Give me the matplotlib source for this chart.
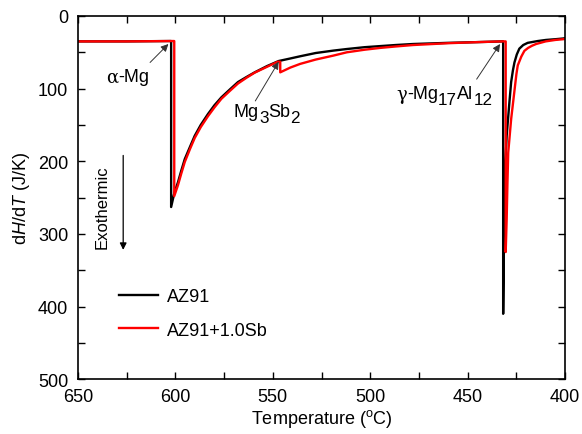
import matplotlib
matplotlib.use("Agg")
import matplotlib.pyplot as plt
from matplotlib.ticker import MultipleLocator
from matplotlib.transforms import offset_copy

plt.rcParams['font.family'] = ['Liberation Sans', 'DejaVu Sans']
plt.rcParams['mathtext.fontset'] = 'custom'
plt.rcParams['mathtext.rm'] = 'Liberation Sans'
plt.rcParams['mathtext.it'] = 'Liberation Sans:italic'
plt.rcParams['mathtext.default'] = 'regular'

# AZ91
T_black = [650, 625, 603, 602.2, 602.2, 600.5, 598.7, 597, 595.2, 592.5, 590.1, 587, 583.3, 580,
           576.4, 572, 567.9, 563.5, 559.3, 553, 547, 541, 536, 528, 519, 512, 503, 495, 487,
           478, 460, 445, 432, 431.8, 431.8, 431.5, 431.2, 430.6, 430, 428.6, 427.7, 426.8, 426,
           424.8, 423.5, 421.5, 419.2, 414, 409.8, 405, 401, 400]
v_black = [35, 35, 34.5, 34.5, 263, 243, 229, 213, 197, 180, 165, 150, 135, 123,
           112, 101, 91, 84, 77.6, 69, 62, 58.5, 55.5, 51, 47.7, 45.5, 43, 41.5, 40,
           38.6, 37, 36, 35, 35, 410, 330, 252, 200, 165, 119, 91, 75, 64,
           53, 45, 40, 37, 34.5, 33, 32, 31, 30.5]

# AZ91+1.0Sb
T_red = [650, 625, 601, 600.6, 600.6, 598.7, 597, 595.2, 592.5, 590.1, 587, 583.3, 580,
         576.4, 572, 567.9, 563.5, 559.3, 553, 547.5, 546.2, 546.2, 541, 536, 528, 519, 512,
         503, 495, 487, 478, 460, 445, 432, 430.5, 430.5, 430.0, 429.6, 429.2, 427.7, 425.7,
         425, 424.3, 422.5, 420.9, 419, 417, 414.9, 410, 405, 401, 400]
v_red = [35, 35, 34.5, 34.5, 248, 233, 217, 201, 183, 168, 153, 138, 126,
         114, 103, 93, 85, 78, 70, 63, 63, 77.6, 71, 66, 60, 54.6, 50,
         46.5, 44, 42, 40, 37.5, 36, 35, 35, 325, 280, 230, 188, 142, 96,
         80, 68, 56, 48, 44, 41, 38.6, 35, 33, 32, 31.5]

fig = plt.figure(figsize=(5.82, 4.35), dpi=100)
ax = fig.add_axes([0.134, 0.126, 0.837, 0.835])

ax.plot(T_black, v_black, color='black', lw=1.7, label='AZ91')
ax.plot(T_red, v_red, color='#ff0000', lw=1.7, label='AZ91+1.0Sb')

ax.set_xlim(650, 400)
ax.set_ylim(500, 0)
ax.xaxis.set_major_locator(MultipleLocator(50))
ax.xaxis.set_minor_locator(MultipleLocator(25))
ax.yaxis.set_major_locator(MultipleLocator(100))
ax.yaxis.set_minor_locator(MultipleLocator(50))
ax.tick_params(which='both', direction='in', top=True, right=True, labelsize=13, length=5, width=1)
ax.tick_params(axis='x', pad=6)
ax.tick_params(axis='y', pad=7)
for s in ax.spines.values():
    s.set_linewidth(1.2)

ax.set_xlabel('Temperature ($^{o}$C)', fontsize=13)
ax.set_ylabel('d$\\mathit{H}$/d$\\mathit{T}$ (J/K)', fontsize=13)
ax.xaxis.set_label_coords(0.5, -0.077)
ax.yaxis.set_label_coords(-0.094, 0.5)

renderer = fig.canvas.get_renderer()


def rich(x, y, parts, fs=13):
    """Place text parts ('n' normal / 's' subscript / 'g' greek) centred at data (x, y)."""
    px = fs * 100 / 72.0
    items = []
    total = 0
    for s, kind in parts:
        kw = dict(fontsize=fs if kind != 's' else fs * 0.95, ha='left', va='center')
        if kind == 'g':
            kw['family'] = ['DejaVu Serif']
        t = ax.text(x, y, s, **kw)
        w = t.get_window_extent(renderer).width
        items.append((t, kind, total))
        total += w
    for t, kind, off in items:
        dy = -0.33 * px if kind == 's' else 0
        t.set_transform(offset_copy(ax.transData, fig, x=off - total / 2, y=dy, units='dots'))


arrow_kw = dict(arrowstyle='-|>', color='#333333', lw=0.7, mutation_scale=11, shrinkA=0, shrinkB=0)

rich(624.3, 84, [('α', 'g'), ('-Mg', 'n')])
ax.annotate('', xy=(603.6, 38.6), xytext=(613, 64), arrowprops=arrow_kw)

rich(553, 132, [('Mg', 'n'), ('3', 's'), ('Sb', 'n'), ('2', 's')])
ax.annotate('', xy=(547, 63), xytext=(559, 117), arrowprops=arrow_kw)

rich(462, 107, [('γ', 'g'), ('-Mg', 'n'), ('17', 's'), ('Al', 'n'), ('12', 's')])
ax.annotate('', xy=(433.4, 38.6), xytext=(445.4, 87), arrowprops=arrow_kw)

ax.text(637.5, 262, 'Exothermic', rotation=90, fontsize=12, ha='center', va='center')
ax.annotate('', xy=(626.8, 322), xytext=(626.8, 192),
            arrowprops=dict(arrowstyle='-|>', color='black', lw=0.9, mutation_scale=10, shrinkA=0, shrinkB=0))

ax.legend(loc='upper left', bbox_to_anchor=(0.05, 0.295), frameon=False, fontsize=13,
          handlelength=2.2, handletextpad=0.5, labelspacing=0.9)

fig.savefig('out.png', dpi=100)
